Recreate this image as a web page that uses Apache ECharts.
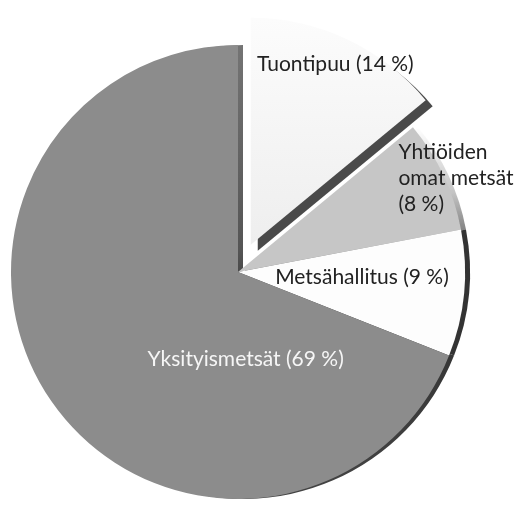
<!DOCTYPE html>
<html>
<head>
<meta charset="utf-8">
<script src="https://cdn.jsdelivr.net/npm/echarts@6/dist/echarts.min.js"></script>
<style>
  html, body { margin: 0; padding: 0; background: #fff; }
  #chart { width: 519px; height: 507px; }
</style>
</head>
<body>
<div id="chart"></div>
<script>
// puun lähteet, osuus prosentteina
const names = ['Tuontipuu (14 %)', 'Yhtiöiden\nomat metsät\n(8 %)', 'Metsähallitus (9 %)', 'Yksityismetsät (69 %)']
const values = [14, 8, 9, 69]

const sliceColors = [
  { type: 'linear', x: 0, y: 0, x2: 0, y2: 1, colorStops: [{ offset: 0, color: '#fcfcfc' }, { offset: 1, color: '#eeeeee' }] },
  '#c6c6c6',
  '#fdfdfd',
  '#8c8c8c'
]
const rimColors = [
  'transparent',
  { type: 'linear', x: 0, y: 0, x2: 0, y2: 1, colorStops: [{ offset: 0, color: 'rgba(60,60,60,0)' }, { offset: 0.45, color: 'rgba(60,60,60,0.3)' }, { offset: 1, color: '#3c3c3c' }] },
  '#333',
  { type: 'linear', x: 0, y: 0, x2: 0, y2: 1, colorStops: [{ offset: 0, color: '#747474' }, { offset: 0.45, color: '#555' }, { offset: 0.6, color: '#333' }, { offset: 1, color: '#444' }] }
]
const labelColors = ['#222', '#222', '#222', '#f6f6f6']
const labelOffsets = [[35, -75], [117, -44], [8, -6], [104, 22]]

const PIE_CENTER = [238, 272]
const PIE_RADIUS = 227

const textStyle = { fontFamily: 'Lato', fontSize: 21, lineHeight: 26 }

const chart = echarts.init(document.getElementById('chart'))

const mainData = values.map((v, i) => {
  const style = { color: sliceColors[i] }
  if (i === 0) {
    style.shadowColor = '#4a4a4a'
    style.shadowBlur = 0
    style.shadowOffsetX = 7
    style.shadowOffsetY = 6
  }
  // monirivinen nimiö tasataan vasemmalle
  const rich = i === 1
    ? { t: Object.assign({}, textStyle, { width: 124, align: 'left' }) }
    : { t: textStyle }
  const label = {
    color: labelColors[i],
    offset: labelOffsets[i],
    rich: rich
  }
  return {
    name: names[i],
    value: v,
    selected: i === 0,
    itemStyle: style,
    label: label,
    select: { itemStyle: style, label: label }
  }
})

chart.setOption({
  animation: false,
  series: [
    {
      // kolmiulotteinen reuna
      type: 'pie',
      silent: true,
      center: [PIE_CENTER[0] + 5, PIE_CENTER[1]],
      radius: PIE_RADIUS,
      startAngle: 90,
      z: 1,
      label: { show: false },
      labelLine: { show: false },
      emphasis: { disabled: true },
      data: values.map((v, i) => ({ value: v, itemStyle: { color: rimColors[i] } }))
    },
    {
      type: 'pie',
      center: PIE_CENTER,
      radius: PIE_RADIUS,
      startAngle: 90,
      z: 2,
      selectedMode: 'single',
      selectedOffset: 30,
      avoidLabelOverlap: false,
      emphasis: { disabled: true },
      label: {
        show: true,
        position: 'inside',
        formatter: (p) => '{t|' + p.name + '}',
        rich: { t: textStyle }
      },
      labelLine: { show: false },
      data: mainData
    }
  ]
})
</script>
</body>
</html>
